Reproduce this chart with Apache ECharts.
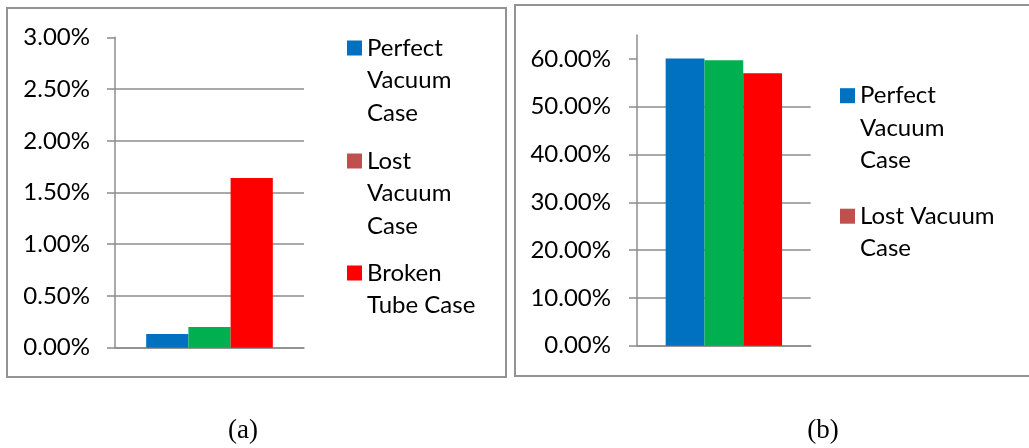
<!DOCTYPE html>
<html>
<head>
<meta charset="utf-8">
<script src="https://cdn.jsdelivr.net/npm/echarts@6/dist/echarts.min.js"></script>
<style>
  html, body { margin: 0; padding: 0; background: #fff; }
  #chart { width: 1029px; height: 448px; }
</style>
</head>
<body>
<div id="chart"></div>
<script>
// Series shown in both panels
const seriesNames = ['Perfect Vacuum Case', 'Lost Vacuum Case', 'Broken Tube Case'];
const categories = [''];

// Panel (a) values (fractions, shown as percentages)
const valuesA = [0.00132, 0.0020, 0.0164];
// Panel (b) values
const valuesB = [0.601, 0.597, 0.570];

// Tick values for the value axes
const ticksA = [0, 0.005, 0.01, 0.015, 0.02, 0.025, 0.03];
const ticksB = [0, 0.1, 0.2, 0.3, 0.4, 0.5, 0.6];

// Wrapped legend texts
const legendLabelsA = ['Perfect\nVacuum\nCase', 'Lost\nVacuum\nCase', 'Broken\nTube Case'];
const legendLabelsB = ['Perfect\nVacuum\nCase', 'Lost Vacuum\nCase'];

// Captions under the panels
const captions = ['(a)', '(b)'];

// Legend swatch colours per series, and bar fill colours
const legendColors = ['#0070C0', '#C0504D', '#FF0000'];
const barColors = ['#0070C0', '#00B050', '#FF0000'];

const FONT = 'Lato, "Open Sans", sans-serif';
const FS = 24;
const LH = 32.5;
const GRAY = '#8c8c8c';

const pct = v => (v * 100).toFixed(2) + '%';

function valueAxis(gridIndex, max, interval, ticks, margin) {
  return {
    type: 'value', gridIndex, min: 0, max, interval,
    axisLine: { show: true, lineStyle: { color: GRAY, width: 1.5 } },
    axisTick: { show: true, inside: false, length: 8, lineStyle: { color: GRAY, width: 1.5 }, customValues: ticks },
    axisLabel: { margin, color: '#000', fontFamily: FONT, fontSize: FS, formatter: pct, customValues: ticks },
    splitLine: { show: true, showMaxLine: false, lineStyle: { color: GRAY, width: 1.5 } }
  };
}

function categoryAxis(gridIndex) {
  return {
    type: 'category', gridIndex, data: categories,
    axisLine: { show: true, lineStyle: { color: GRAY, width: 1.5 } },
    axisTick: { show: false }, axisLabel: { show: false }, splitLine: { show: false }
  };
}

function barSeries(values, axisIndex, count) {
  return values.slice(0, count).map((v, i) => ({
    name: seriesNames[i],
    type: 'bar',
    xAxisIndex: axisIndex, yAxisIndex: axisIndex,
    barGap: '0%', barCategoryGap: '33%',
    itemStyle: { color: legendColors[i] },
    data: [{ value: v, itemStyle: { color: barColors[i] } }]
  }));
}

// One legend component per entry; blank lines above the text keep the
// swatch level with the first text line (legend text is centred on the swatch)
function legendItems(labels, left, centers) {
  return labels.map((label, i) => {
    const lines = label.split('\n').length;
    const text = '\n'.repeat(lines - 1) + label;
    return {
      data: [seriesNames[i]],
      left, top: centers[i] - (2 * lines - 1) * LH / 2,
      orient: 'vertical', padding: 0,
      itemWidth: 15, itemHeight: 15, icon: 'rect',
      selectedMode: false,
      formatter: () => text,
      textStyle: { fontFamily: FONT, fontSize: FS, lineHeight: LH, color: '#000' }
    };
  });
}

const chart = echarts.init(document.getElementById('chart'), null, { renderer: 'canvas' });

chart.setOption({
  animation: false,
  backgroundColor: '#fff',
  graphic: [
    { type: 'rect', shape: { x: 7, y: 8, width: 499, height: 369 }, style: { fill: 'none', stroke: '#939393', lineWidth: 2 }, silent: true },
    { type: 'rect', shape: { x: 515, y: 5, width: 530, height: 371 }, style: { fill: 'none', stroke: '#939393', lineWidth: 2 }, silent: true }
  ],
  title: [
    { text: captions[0], left: 243, top: 417, textAlign: 'center', padding: 0,
      textStyle: { fontFamily: '"Liberation Serif", serif', fontSize: 27, fontWeight: 'normal', color: '#000' } },
    { text: captions[1], left: 823, top: 417, textAlign: 'center', padding: 0,
      textStyle: { fontFamily: '"Liberation Serif", serif', fontSize: 27, fontWeight: 'normal', color: '#000' } }
  ],
  grid: [
    { left: 115, top: 37.3, width: 189, height: 310.4 },
    { left: 637, top: 35, width: 173.7, height: 310.7 }
  ],
  xAxis: [categoryAxis(0), categoryAxis(1)],
  yAxis: [
    valueAxis(0, 0.03, 0.005, ticksA, 25),
    valueAxis(1, 0.65, 0.1, ticksB, 26)
  ],
  legend: [
    ...legendItems(legendLabelsA, 347, [48, 161, 273]),
    ...legendItems(legendLabelsB, 840, [95.7, 216.2])
  ],
  series: [
    ...barSeries(valuesA, 0, 3),
    ...barSeries(valuesB, 1, 3)
  ]
});
</script>
</body>
</html>
